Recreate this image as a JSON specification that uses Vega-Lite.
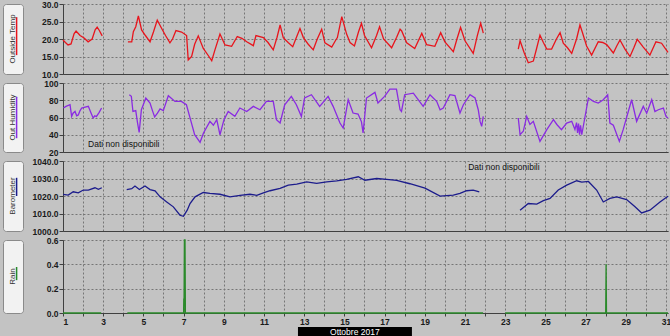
{
  "$schema": "https://vega.github.io/schema/vega-lite/v6.json",
  "background": "#c3c3c3",
  "padding": {"left": 2, "top": 0, "right": 0, "bottom": 0},
  "bounds": "flush",
  "columns": 2,
  "spacing": {"row": 9, "column": 40},
  "config": {
    "view": {"stroke": null},
    "axis": {
      "labelFont": "Liberation Sans",
      "labelFontSize": 8.5,
      "labelFontWeight": "bold",
      "labelColor": "#1a1a1a",
      "domainColor": "#404040",
      "tickColor": "#404040",
      "gridColor": "#767676",
      "gridDash": [2, 2],
      "gridOpacity": 1
    }
  },
  "datasets": {
    "temp": [
      {"s":1,"d":1.0,"v":19.7},{"s":1,"d":1.12,"v":19.0},{"s":1,"d":1.25,"v":18.3},{"s":1,"d":1.4,"v":18.6},{"s":1,"d":1.55,"v":21.5},{"s":1,"d":1.65,"v":22.3},{"s":1,"d":1.85,"v":21},{"s":1,"d":2.05,"v":20.3},{"s":1,"d":2.25,"v":19.2},{"s":1,"d":2.45,"v":20},{"s":1,"d":2.6,"v":22.6},{"s":1,"d":2.7,"v":23.4},{"s":1,"d":2.8,"v":22.5},{"s":1,"d":2.95,"v":20.9},
      {"s":2,"d":4.23,"v":19.2},{"s":2,"d":4.42,"v":19.2},{"s":2,"d":4.5,"v":22.1},{"s":2,"d":4.62,"v":23.5},{"s":2,"d":4.75,"v":26.6},{"s":2,"d":4.91,"v":22.6},{"s":2,"d":5.1,"v":21},{"s":2,"d":5.33,"v":19.2},{"s":2,"d":5.5,"v":22},{"s":2,"d":5.69,"v":25.4},{"s":2,"d":5.91,"v":23},{"s":2,"d":6.1,"v":21},{"s":2,"d":6.32,"v":18.9},{"s":2,"d":6.45,"v":20},{"s":2,"d":6.62,"v":22.4},{"s":2,"d":6.9,"v":22},{"s":2,"d":7.15,"v":21},{"s":2,"d":7.23,"v":14.0},{"s":2,"d":7.4,"v":15},{"s":2,"d":7.55,"v":18.5},{"s":2,"d":7.73,"v":20.9},{"s":2,"d":7.98,"v":17.3},{"s":2,"d":8.2,"v":15.5},{"s":2,"d":8.4,"v":13.8},{"s":2,"d":8.56,"v":16.9},{"s":2,"d":8.81,"v":21.4},{"s":2,"d":9.06,"v":18.3},{"s":2,"d":9.39,"v":17.9},{"s":2,"d":9.67,"v":20.7},{"s":2,"d":9.9,"v":20.2},{"s":2,"d":10.14,"v":19.2},{"s":2,"d":10.47,"v":18.1},{"s":2,"d":10.6,"v":21},{"s":2,"d":10.97,"v":20.4},{"s":2,"d":11.2,"v":19},{"s":2,"d":11.46,"v":16.9},{"s":2,"d":11.65,"v":20.5},{"s":2,"d":11.8,"v":24},{"s":2,"d":11.96,"v":20.4},{"s":2,"d":12.2,"v":19},{"s":2,"d":12.43,"v":17.8},{"s":2,"d":12.65,"v":21},{"s":2,"d":12.79,"v":23},{"s":2,"d":12.96,"v":20.4},{"s":2,"d":13.2,"v":18.5},{"s":2,"d":13.45,"v":16.9},{"s":2,"d":13.65,"v":20},{"s":2,"d":13.87,"v":22.8},{"s":2,"d":14.03,"v":18.9},{"s":2,"d":14.37,"v":17.7},{"s":2,"d":14.55,"v":19.5},{"s":2,"d":14.65,"v":20.4},{"s":2,"d":14.87,"v":26.4},{"s":2,"d":15.11,"v":21.4},{"s":2,"d":15.28,"v":19},{"s":2,"d":15.5,"v":18},{"s":2,"d":15.7,"v":22},{"s":2,"d":15.85,"v":24.5},{"s":2,"d":16.0,"v":21},{"s":2,"d":16.35,"v":17.5},{"s":2,"d":16.6,"v":21},{"s":2,"d":16.75,"v":23.5},{"s":2,"d":16.95,"v":20},{"s":2,"d":17.35,"v":17.5},{"s":2,"d":17.6,"v":20.5},{"s":2,"d":17.77,"v":22.8},{"s":2,"d":17.85,"v":22.3},{"s":2,"d":18.1,"v":18.9},{"s":2,"d":18.5,"v":17.3},{"s":2,"d":18.85,"v":21.6},{"s":2,"d":19.09,"v":18.4},{"s":2,"d":19.5,"v":17.9},{"s":2,"d":19.79,"v":21.8},{"s":2,"d":20.0,"v":19.2},{"s":2,"d":20.42,"v":16.4},{"s":2,"d":20.6,"v":20},{"s":2,"d":20.78,"v":23.3},{"s":2,"d":21.0,"v":19.5},{"s":2,"d":21.41,"v":15.9},{"s":2,"d":21.61,"v":20.9},{"s":2,"d":21.78,"v":24.5},{"s":2,"d":21.85,"v":23},{"s":2,"d":21.91,"v":21.7},
      {"s":3,"d":23.65,"v":17.1},{"s":3,"d":23.74,"v":19.5},{"s":3,"d":23.95,"v":16},{"s":3,"d":24.15,"v":13.2},{"s":3,"d":24.4,"v":13.7},{"s":3,"d":24.55,"v":17},{"s":3,"d":24.73,"v":21.1},{"s":3,"d":24.9,"v":19},{"s":3,"d":25.07,"v":17.1},{"s":3,"d":25.31,"v":17.1},{"s":3,"d":25.55,"v":20},{"s":3,"d":25.73,"v":21.8},{"s":3,"d":25.89,"v":18.8},{"s":3,"d":26.1,"v":17.5},{"s":3,"d":26.31,"v":15.9},{"s":3,"d":26.55,"v":20},{"s":3,"d":26.72,"v":24},{"s":3,"d":26.85,"v":21.7},{"s":3,"d":27.05,"v":18},{"s":3,"d":27.3,"v":15.4},{"s":3,"d":27.63,"v":19.2},{"s":3,"d":27.85,"v":19},{"s":3,"d":28.05,"v":18.4},{"s":3,"d":28.38,"v":16},{"s":3,"d":28.55,"v":18},{"s":3,"d":28.71,"v":19.7},{"s":3,"d":28.96,"v":17.1},{"s":3,"d":29.21,"v":15},{"s":3,"d":29.4,"v":17.5},{"s":3,"d":29.57,"v":19.9},{"s":3,"d":29.87,"v":17.7},{"s":3,"d":30.2,"v":15.4},{"s":3,"d":30.5,"v":19.2},{"s":3,"d":30.78,"v":18.8},{"s":3,"d":31.1,"v":16.2}
    ],
    "hum": [
      {"s":1,"d":1.02,"v":71},{"s":1,"d":1.15,"v":72.9},{"s":1,"d":1.35,"v":74.8},{"s":1,"d":1.43,"v":61.3},{"s":1,"d":1.5,"v":65},{"s":1,"d":1.6,"v":67},{"s":1,"d":1.68,"v":62},{"s":1,"d":1.76,"v":63},{"s":1,"d":1.85,"v":68},{"s":1,"d":1.93,"v":71},{"s":1,"d":2.1,"v":72},{"s":1,"d":2.26,"v":72.9},{"s":1,"d":2.4,"v":65},{"s":1,"d":2.5,"v":59.4},{"s":1,"d":2.58,"v":62},{"s":1,"d":2.66,"v":61},{"s":1,"d":2.8,"v":66},{"s":1,"d":2.92,"v":71},
      {"s":2,"d":4.3,"v":86.4},{"s":2,"d":4.4,"v":84.5},{"s":2,"d":4.48,"v":67},{"s":2,"d":4.62,"v":68},{"s":2,"d":4.7,"v":55},{"s":2,"d":4.79,"v":42.7},{"s":2,"d":4.9,"v":69},{"s":2,"d":5.12,"v":82.6},{"s":2,"d":5.33,"v":76.8},{"s":2,"d":5.45,"v":68},{"s":2,"d":5.56,"v":60.6},{"s":2,"d":5.7,"v":65},{"s":2,"d":5.83,"v":69.9},{"s":2,"d":5.99,"v":68},{"s":2,"d":6.24,"v":85.3},{"s":2,"d":6.57,"v":78.7},{"s":2,"d":6.89,"v":78.7},{"s":2,"d":7.14,"v":74.8},{"s":2,"d":7.3,"v":61.3},{"s":2,"d":7.55,"v":40.1},{"s":2,"d":7.82,"v":31.2},{"s":2,"d":7.99,"v":42},{"s":2,"d":8.31,"v":55.5},{"s":2,"d":8.48,"v":51},{"s":2,"d":8.65,"v":57.5},{"s":2,"d":8.81,"v":40},{"s":2,"d":9.01,"v":57.5},{"s":2,"d":9.22,"v":67},{"s":2,"d":9.55,"v":61.3},{"s":2,"d":9.8,"v":71},{"s":2,"d":10.14,"v":67},{"s":2,"d":10.47,"v":72.9},{"s":2,"d":10.8,"v":69},{"s":2,"d":11.12,"v":78.7},{"s":2,"d":11.46,"v":78.7},{"s":2,"d":11.62,"v":57.5},{"s":2,"d":11.8,"v":53.6},{"s":2,"d":12.03,"v":74.8},{"s":2,"d":12.36,"v":84.5},{"s":2,"d":12.61,"v":74.8},{"s":2,"d":12.86,"v":61.3},{"s":2,"d":13.02,"v":82.6},{"s":2,"d":13.36,"v":86.4},{"s":2,"d":13.77,"v":72.9},{"s":2,"d":14.19,"v":84.5},{"s":2,"d":14.44,"v":72.9},{"s":2,"d":14.78,"v":53.6},{"s":2,"d":14.94,"v":47.8},{"s":2,"d":15.19,"v":80.6},{"s":2,"d":15.43,"v":65.2},{"s":2,"d":15.68,"v":64},{"s":2,"d":15.85,"v":55},{"s":2,"d":15.93,"v":42},{"s":2,"d":16.1,"v":82.6},{"s":2,"d":16.52,"v":89.1},{"s":2,"d":16.67,"v":76.8},{"s":2,"d":17.0,"v":84.5},{"s":2,"d":17.26,"v":93},{"s":2,"d":17.59,"v":93},{"s":2,"d":17.77,"v":69},{"s":2,"d":17.84,"v":67},{"s":2,"d":18.0,"v":86.4},{"s":2,"d":18.43,"v":88.3},{"s":2,"d":18.67,"v":80.6},{"s":2,"d":18.92,"v":72.9},{"s":2,"d":19.26,"v":86.4},{"s":2,"d":19.59,"v":78.7},{"s":2,"d":19.76,"v":69},{"s":2,"d":19.92,"v":71},{"s":2,"d":20.25,"v":86.4},{"s":2,"d":20.5,"v":85.3},{"s":2,"d":20.75,"v":65.2},{"s":2,"d":20.92,"v":74.8},{"s":2,"d":21.25,"v":86.4},{"s":2,"d":21.5,"v":82.6},{"s":2,"d":21.66,"v":69},{"s":2,"d":21.75,"v":55.5},{"s":2,"d":21.83,"v":49.7},{"s":2,"d":21.91,"v":61.3},
      {"s":3,"d":23.65,"v":59.4},{"s":3,"d":23.74,"v":40.1},{"s":3,"d":23.9,"v":44},{"s":3,"d":24.07,"v":61.3},{"s":3,"d":24.23,"v":51.9},{"s":3,"d":24.4,"v":55.5},{"s":3,"d":24.73,"v":32.3},{"s":3,"d":25.07,"v":45.9},{"s":3,"d":25.4,"v":57.5},{"s":3,"d":25.57,"v":51.9},{"s":3,"d":25.8,"v":45.9},{"s":3,"d":26.06,"v":53.6},{"s":3,"d":26.31,"v":55.5},{"s":3,"d":26.47,"v":46},{"s":3,"d":26.55,"v":54},{"s":3,"d":26.6,"v":42},{"s":3,"d":26.65,"v":53},{"s":3,"d":26.7,"v":40},{"s":3,"d":26.75,"v":51},{"s":3,"d":26.81,"v":40},{"s":3,"d":27.14,"v":82.6},{"s":3,"d":27.39,"v":78.7},{"s":3,"d":27.63,"v":76.8},{"s":3,"d":27.88,"v":80.6},{"s":3,"d":28.1,"v":86.4},{"s":3,"d":28.21,"v":53.6},{"s":3,"d":28.38,"v":51},{"s":3,"d":28.68,"v":32.3},{"s":3,"d":28.87,"v":45.9},{"s":3,"d":29.29,"v":80.6},{"s":3,"d":29.54,"v":55.5},{"s":3,"d":29.87,"v":72.9},{"s":3,"d":30.04,"v":65},{"s":3,"d":30.29,"v":80.6},{"s":3,"d":30.45,"v":67},{"s":3,"d":30.62,"v":69},{"s":3,"d":30.87,"v":71},{"s":3,"d":31.0,"v":61.3},{"s":3,"d":31.1,"v":59.4}
    ],
    "baro": [
      {"s":1,"d":1.01,"v":1020.9},{"s":1,"d":1.26,"v":1020.5},{"s":1,"d":1.51,"v":1022.4},{"s":1,"d":1.76,"v":1021.8},{"s":1,"d":2.01,"v":1023.4},{"s":1,"d":2.26,"v":1023.4},{"s":1,"d":2.59,"v":1024.7},{"s":1,"d":2.76,"v":1023.8},{"s":1,"d":2.93,"v":1024.7},
      {"s":2,"d":4.17,"v":1023.7},{"s":2,"d":4.42,"v":1024.2},{"s":2,"d":4.58,"v":1025.7},{"s":2,"d":4.8,"v":1023.7},{"s":2,"d":5.08,"v":1025.7},{"s":2,"d":5.33,"v":1023.7},{"s":2,"d":5.58,"v":1023},{"s":2,"d":5.83,"v":1019.5},{"s":2,"d":6.16,"v":1016.6},{"s":2,"d":6.49,"v":1013.8},{"s":2,"d":6.82,"v":1009},{"s":2,"d":6.99,"v":1008.4},{"s":2,"d":7.18,"v":1011.9},{"s":2,"d":7.32,"v":1015.7},{"s":2,"d":7.57,"v":1019.5},{"s":2,"d":7.98,"v":1022},{"s":2,"d":8.31,"v":1021.5},{"s":2,"d":8.81,"v":1021},{"s":2,"d":9.31,"v":1019.5},{"s":2,"d":9.81,"v":1020.4},{"s":2,"d":10.3,"v":1021},{"s":2,"d":10.64,"v":1020.4},{"s":2,"d":10.97,"v":1021.8},{"s":2,"d":11.3,"v":1023},{"s":2,"d":11.8,"v":1024.3},{"s":2,"d":12.21,"v":1026.2},{"s":2,"d":12.63,"v":1026.8},{"s":2,"d":13.12,"v":1028.1},{"s":2,"d":13.62,"v":1027.2},{"s":2,"d":14.12,"v":1028.1},{"s":2,"d":14.62,"v":1028.7},{"s":2,"d":15.11,"v":1029.5},{"s":2,"d":15.69,"v":1031},{"s":2,"d":16.02,"v":1029},{"s":2,"d":16.61,"v":1030},{"s":2,"d":17.1,"v":1029.5},{"s":2,"d":17.6,"v":1028.9},{"s":2,"d":18.26,"v":1027},{"s":2,"d":19.01,"v":1024.5},{"s":2,"d":19.76,"v":1019.9},{"s":2,"d":20.42,"v":1020.5},{"s":2,"d":20.75,"v":1021.5},{"s":2,"d":21.08,"v":1023},{"s":2,"d":21.41,"v":1023.4},{"s":2,"d":21.71,"v":1022.4},
      {"s":3,"d":23.74,"v":1011.9},{"s":3,"d":24.15,"v":1015.7},{"s":3,"d":24.57,"v":1015.4},{"s":3,"d":24.9,"v":1017.3},{"s":3,"d":25.23,"v":1018.6},{"s":3,"d":25.64,"v":1023.4},{"s":3,"d":26.06,"v":1026.2},{"s":3,"d":26.56,"v":1028.7},{"s":3,"d":26.81,"v":1027.9},{"s":3,"d":27.14,"v":1028.3},{"s":3,"d":27.55,"v":1023.4},{"s":3,"d":27.88,"v":1016.6},{"s":3,"d":28.21,"v":1018.6},{"s":3,"d":28.55,"v":1019.5},{"s":3,"d":29.04,"v":1018},{"s":3,"d":29.46,"v":1013.8},{"s":3,"d":29.79,"v":1010.3},{"s":3,"d":30.2,"v":1011.9},{"s":3,"d":30.7,"v":1016.6},{"s":3,"d":31.1,"v":1019.9}
    ],
    "rain": [
      {"s":1,"d":1.0,"v":0},{"s":1,"d":2.9,"v":0},
      {"s":2,"d":4.2,"v":0},{"s":2,"d":7.0,"v":0},{"s":2,"d":7.01,"v":0.12},{"s":2,"d":7.02,"v":0},{"s":2,"d":7.04,"v":0.6},{"s":2,"d":7.07,"v":0.6},{"s":2,"d":7.09,"v":0},{"s":2,"d":21.9,"v":0},
      {"s":3,"d":23.0,"v":0},{"s":3,"d":28.0,"v":0},{"s":3,"d":28.02,"v":0.4},{"s":3,"d":28.04,"v":0},{"s":3,"d":31.1,"v":0}
    ],
    "labels": [
      {"p":"Outside Temp","a":0.81,"b":0.27,"c":"#e8141c"},
      {"p":"Out Humidity","a":0.8,"b":0.2,"c":"#8a2be2"},
      {"p":"Barometer","a":0.76,"b":0.5,"c":"#1c1c8c"},
      {"p":"Rain","a":0.63,"b":0.45,"c":"#2a8a2a"}
    ]
  },
  "concat": [
    {
      "width": 20, "height": 70,
      "data": {"name": "labels"},
      "transform": [{"filter": "datum.p == 'Outside Temp'"}],
      "view": {"fill": "#f2f2f2", "stroke": "#8a8a8a", "cornerRadius": 3},
      "layer": [
        {"mark": {"type": "text", "angle": 270, "font": "Liberation Sans", "fontSize": 8, "color": "#333333"}, "encoding": {"text": {"field": "p"}}},
        {"mark": {"type": "rule", "strokeWidth": 1.5}, "encoding": {"x": {"datum": 0.68, "type": "quantitative", "scale": {"domain": [0, 1]}, "axis": null}, "y": {"field": "a", "type": "quantitative", "scale": {"domain": [0, 1]}, "axis": null}, "y2": {"field": "b"}, "color": {"field": "c", "type": "nominal", "scale": null}}}
      ]
    },
    {
      "width": 605, "height": 70,
      "data": {"name": "temp"},
      "mark": {"type": "line", "color": "#e8141c", "strokeWidth": 1.3},
      "encoding": {
        "x": {"field": "d", "type": "quantitative", "scale": {"domain": [1, 31.1], "nice": false, "zero": false},
              "axis": {"title": null, "values": [1,2,3,4,5,6,7,8,9,10,11,12,13,14,15,16,17,18,19,20,21,22,23,24,25,26,27,28,29,30,31], "labels": false, "ticks": false, "grid": true}},
        "y": {"field": "v", "type": "quantitative", "scale": {"domain": [10, 30], "nice": false, "zero": false},
              "axis": {"title": null, "values": [10, 15, 20, 25, 30], "format": ".1f", "tickSize": 4, "labelPadding": 1, "grid": true}},
        "detail": {"field": "s"}
      }
    },
    {
      "width": 20, "height": 69,
      "data": {"name": "labels"},
      "transform": [{"filter": "datum.p == 'Out Humidity'"}],
      "view": {"fill": "#f2f2f2", "stroke": "#8a8a8a", "cornerRadius": 3},
      "layer": [
        {"mark": {"type": "text", "angle": 270, "font": "Liberation Sans", "fontSize": 8, "color": "#333333"}, "encoding": {"text": {"field": "p"}}},
        {"mark": {"type": "rule", "strokeWidth": 1.5}, "encoding": {"x": {"datum": 0.68, "type": "quantitative", "scale": {"domain": [0, 1]}, "axis": null}, "y": {"field": "a", "type": "quantitative", "scale": {"domain": [0, 1]}, "axis": null}, "y2": {"field": "b"}, "color": {"field": "c", "type": "nominal", "scale": null}}}
      ]
    },
    {
      "width": 605, "height": 69,
      "encoding": {
        "x": {"field": "d", "type": "quantitative", "scale": {"domain": [1, 31.1], "nice": false, "zero": false},
              "axis": {"title": null, "values": [1,2,3,4,5,6,7,8,9,10,11,12,13,14,15,16,17,18,19,20,21,22,23,24,25,26,27,28,29,30,31], "labels": false, "ticks": false, "grid": true}},
        "y": {"field": "v", "type": "quantitative", "scale": {"domain": [20, 100], "nice": false, "zero": false},
              "axis": {"title": null, "values": [20, 40, 60, 80, 100], "format": "d", "tickSize": 4, "labelPadding": 1, "grid": true}}
      },
      "layer": [
        {
          "data": {"name": "hum"},
          "mark": {"type": "line", "color": "#8a2be2", "strokeWidth": 1.3},
          "encoding": {"detail": {"field": "s"}}
        },
        {
          "data": {"values": [{"d": 2.25, "v": 29.6, "t": "Dati non disponibili"}]},
          "mark": {"type": "text", "align": "left", "baseline": "middle", "font": "Liberation Sans", "fontSize": 8.5, "color": "#111111"},
          "encoding": {"text": {"field": "t"}}
        }
      ]
    },
    {
      "width": 20, "height": 70,
      "data": {"name": "labels"},
      "transform": [{"filter": "datum.p == 'Barometer'"}],
      "view": {"fill": "#f2f2f2", "stroke": "#8a8a8a", "cornerRadius": 3},
      "layer": [
        {"mark": {"type": "text", "angle": 270, "font": "Liberation Sans", "fontSize": 8, "color": "#333333"}, "encoding": {"text": {"field": "p"}}},
        {"mark": {"type": "rule", "strokeWidth": 1.5}, "encoding": {"x": {"datum": 0.68, "type": "quantitative", "scale": {"domain": [0, 1]}, "axis": null}, "y": {"field": "a", "type": "quantitative", "scale": {"domain": [0, 1]}, "axis": null}, "y2": {"field": "b"}, "color": {"field": "c", "type": "nominal", "scale": null}}}
      ]
    },
    {
      "width": 605, "height": 70,
      "encoding": {
        "x": {"field": "d", "type": "quantitative", "scale": {"domain": [1, 31.1], "nice": false, "zero": false},
              "axis": {"title": null, "values": [1,2,3,4,5,6,7,8,9,10,11,12,13,14,15,16,17,18,19,20,21,22,23,24,25,26,27,28,29,30,31], "labels": false, "ticks": false, "grid": true}},
        "y": {"field": "v", "type": "quantitative", "scale": {"domain": [1000, 1040], "nice": false, "zero": false},
              "axis": {"title": null, "values": [1000, 1010, 1020, 1030, 1040], "format": ".1f", "tickSize": 4, "labelPadding": 1, "grid": true}}
      },
      "layer": [
        {
          "data": {"name": "baro"},
          "mark": {"type": "line", "color": "#1c1c8c", "strokeWidth": 1.3},
          "encoding": {"detail": {"field": "s"}}
        },
        {
          "data": {"values": [{"d": 21.16, "v": 1036.4, "t": "Dati non disponibili"}]},
          "mark": {"type": "text", "align": "left", "baseline": "middle", "font": "Liberation Sans", "fontSize": 8.5, "color": "#111111"},
          "encoding": {"text": {"field": "t"}}
        }
      ]
    },
    {
      "width": 20, "height": 73,
      "data": {"name": "labels"},
      "transform": [{"filter": "datum.p == 'Rain'"}],
      "view": {"fill": "#f2f2f2", "stroke": "#8a8a8a", "cornerRadius": 3},
      "layer": [
        {"mark": {"type": "text", "angle": 270, "font": "Liberation Sans", "fontSize": 8, "color": "#333333"}, "encoding": {"text": {"field": "p"}}},
        {"mark": {"type": "rule", "strokeWidth": 1.5}, "encoding": {"x": {"datum": 0.68, "type": "quantitative", "scale": {"domain": [0, 1]}, "axis": null}, "y": {"field": "a", "type": "quantitative", "scale": {"domain": [0, 1]}, "axis": null}, "y2": {"field": "b"}, "color": {"field": "c", "type": "nominal", "scale": null}}}
      ]
    },
    {
      "width": 605, "height": 73,
      "data": {"name": "rain"},
      "mark": {"type": "line", "color": "#2a8a2a", "strokeWidth": 1.3},
      "encoding": {
        "x": {"field": "d", "type": "quantitative", "scale": {"domain": [1, 31.1], "nice": false, "zero": false},
              "axis": {"title": null, "values": [1,2,3,4,5,6,7,8,9,10,11,12,13,14,15,16,17,18,19,20,21,22,23,24,25,26,27,28,29,30,31], "labelExpr": "datum.value % 2 == 1 ? datum.label : ''", "tickSize": 3, "labelPadding": 1, "grid": true}},
        "y": {"field": "v", "type": "quantitative", "scale": {"domain": [0, 0.6], "nice": false, "zero": false},
              "axis": {"title": null, "values": [0, 0.2, 0.4, 0.6], "format": ".1f", "tickSize": 4, "labelPadding": 1, "grid": true}},
        "detail": {"field": "s"}
      }
    },
    {
      "width": 20, "height": 14,
      "data": {"values": [{"t": ""}]},
      "mark": {"type": "text"},
      "encoding": {"text": {"field": "t"}}
    },
    {
      "width": 605, "height": 14,
      "data": {"values": [{"t": "Ottobre 2017"}]},
      "encoding": {
        "x": {"datum": 12.69, "type": "quantitative", "scale": {"domain": [1, 31.1], "nice": false, "zero": false}, "axis": null},
        "y": {"datum": 0, "type": "quantitative", "scale": {"domain": [0, 1], "nice": false, "zero": false}, "axis": null}
      },
      "layer": [
        {
          "mark": {"type": "rect", "color": "#000000"},
          "encoding": {"x2": {"datum": 18.36}, "y2": {"datum": 0.64}}
        },
        {
          "mark": {"type": "text", "font": "Liberation Sans", "fontSize": 8.5, "color": "#ffffff", "baseline": "middle"},
          "encoding": {"x": {"datum": 15.52, "type": "quantitative"}, "y": {"datum": 0.3, "type": "quantitative"}, "text": {"field": "t"}}
        }
      ]
    }
  ]
}
